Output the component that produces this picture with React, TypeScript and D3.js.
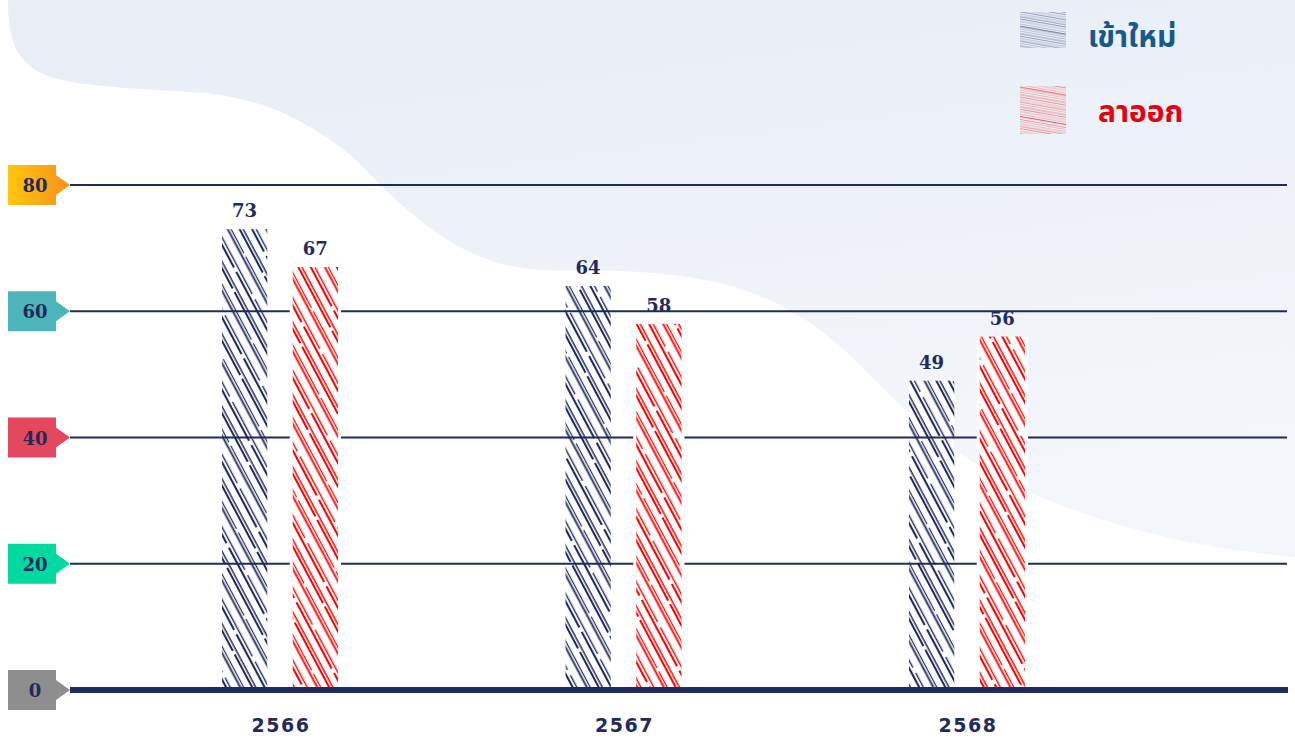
import React from "react";
import * as d3 from "d3";

const years = ["2566", "2567", "2568"];
const newHires = [73, 64, 49];
const resigned = [67, 58, 56];
const yTicks = [0, 20, 40, 60, 80];
const seriesNames = ["เข้าใหม่", "ลาออก"];

const W = 1295;
const H = 742;
const NAVY = "#1F2B5C";
const RED = "#FF0000";

const tagFill: Record<number, string> = {
  0: "#8E8E8E",
  20: "#00D9A0",
  40: "#E3485F",
  60: "#4BB5BA",
  80: "url(#tagOrange)",
};

// hand-drawn-like stroke set for bar texture (pattern space, vertical lines)
const strokes = [
  { x: 2, w: 2, dash: "44 4 32" },
  { x: 5.2, w: 1.5, dash: "80" },
  { x: 13, w: 2.1, dash: "26 5 49" },
  { x: 16.6, w: 1.4, dash: "58 6 16" },
  { x: 25.5, w: 1.9, dash: "80" },
  { x: 28.5, w: 1.2, dash: "18 4 58" },
];

const legendLines = d3.range(0, 60, 2.4);

export default function App() {
  const y = d3.scaleLinear().domain([0, 80]).range([690, 185]);
  const x = d3.scalePoint<string>().domain(years).range([280, 967]);
  const sub = d3.scaleBand<string>().domain(["in", "out"]).range([-58, 58]).paddingInner(0.36);
  const bw = sub.bandwidth();

  const bgPath =
    "M8,0 C8,40 15,70 62,80 C100,88 160,90 207,93 C260,100 300,115 353,157 C400,205 440,245 498,263 " +
    "C540,275 580,268 640,272 C700,276 760,285 820,330 C860,360 890,400 933,433 C960,455 990,475 1040,497 " +
    "C1090,517 1140,532 1178,540 C1230,550 1270,555 1295,557 L1295,0 Z";

  return (
    <div style={{ position: "absolute", left: 0, top: 0 }}>
      <svg width={W} height={H} style={{ display: "block" }}>
        <defs>
          <linearGradient id="bgGrad" x1="0" y1="0" x2="0.3" y2="1">
            <stop offset="0" stopColor="#E8EDF6" />
            <stop offset="1" stopColor="#F3F6FA" />
          </linearGradient>
          <linearGradient id="tagOrange" x1="0" y1="0" x2="1" y2="0">
            <stop offset="0" stopColor="#FFC70D" />
            <stop offset="1" stopColor="#F7901E" />
          </linearGradient>
          {[
            { id: "hatchNavy", c: NAVY },
            { id: "hatchRed", c: RED },
          ].map((p) => (
            <pattern
              key={p.id}
              id={p.id}
              patternUnits="userSpaceOnUse"
              width={34}
              height={80}
              patternTransform="rotate(-28)"
            >
              {strokes.map((s, i) => (
                <line
                  key={i}
                  x1={s.x}
                  x2={s.x}
                  y1={0}
                  y2={80}
                  stroke={p.c}
                  strokeWidth={s.w}
                  strokeDasharray={s.dash}
                />
              ))}
            </pattern>
          ))}
          {[
            { id: "legNavy", c: "#3A4A80" },
            { id: "legRed", c: "#F03030" },
          ].map((p) => (
            <pattern
              key={p.id}
              id={p.id}
              patternUnits="userSpaceOnUse"
              width={60}
              height={60}
              patternTransform="rotate(10)"
            >
              {legendLines.map((v, i) => (
                <line
                  key={i}
                  x1={0}
                  x2={60}
                  y1={v}
                  y2={v}
                  stroke={p.c}
                  strokeWidth={i % 3 === 0 ? 1 : 0.6}
                  opacity={i % 4 === 0 ? 0.9 : 0.55}
                />
              ))}
            </pattern>
          ))}
        </defs>

        {/* background */}
        <rect x={0} y={0} width={W} height={H} fill="#FFFFFF" />
        <path d={bgPath} fill="url(#bgGrad)" />

        {/* navy bars (under gridlines) */}
        {years.map((yr, i) => {
          const bx = (x(yr) as number) + (sub("in") as number);
          return (
            <g key={"n" + yr}>
              <rect x={bx} y={y(newHires[i])} width={bw} height={y(0) - y(newHires[i])} fill="#FFFFFF" />
              <rect x={bx} y={y(newHires[i])} width={bw} height={y(0) - y(newHires[i])} fill="url(#hatchNavy)" />
            </g>
          );
        })}

        {/* gridlines */}
        {yTicks
          .filter((t) => t !== 0)
          .map((t) => (
            <line key={t} x1={70} x2={1287} y1={y(t)} y2={y(t)} stroke={NAVY} strokeWidth={2} />
          ))}

        {/* red bars (mask gridlines) */}
        {years.map((yr, i) => {
          const bx = (x(yr) as number) + (sub("out") as number);
          const top = y(resigned[i]);
          return (
            <g key={"r" + yr}>
              <rect x={bx - 3} y={top} width={bw + 6} height={y(0) - top} fill="#FFFFFF" />
              <rect x={bx} y={top} width={bw} height={y(0) - top} fill="url(#hatchRed)" />
            </g>
          );
        })}

        {/* baseline */}
        <line x1={70} x2={1288} y1={y(0)} y2={y(0)} stroke={NAVY} strokeWidth={6} />

        {/* tick tags */}
        {yTicks.map((t) => {
          const cy = y(t);
          const x0 = 8;
          const x1 = 56;
          const pts = [
            [x0, cy - 20],
            [x1, cy - 20],
            [x1, cy - 10],
            [x1 + 14, cy],
            [x1, cy + 10],
            [x1, cy + 20],
            [x0, cy + 20],
          ]
            .map((p) => p.join(","))
            .join(" ");
          return (
            <g key={"tag" + t}>
              <polygon points={pts} fill={tagFill[t]} />
              <text
                x={(x0 + x1) / 2 + 3}
                y={cy + 7}
                textAnchor="middle"
                fontFamily="'DejaVu Serif', serif"
                fontWeight="bold"
                fontSize={18}
                fill={NAVY}
              >
                {t}
              </text>
            </g>
          );
        })}

        {/* value labels */}
        {years.map((yr, i) => (
          <g key={"v" + yr} fontFamily="'DejaVu Serif', serif" fontWeight="bold" fontSize={18} fill={NAVY} textAnchor="middle">
            <text x={(x(yr) as number) + (sub("in") as number) + bw / 2} y={y(newHires[i]) - 12}>
              {newHires[i]}
            </text>
            <text x={(x(yr) as number) + (sub("out") as number) + bw / 2} y={y(resigned[i]) - 12}>
              {resigned[i]}
            </text>
          </g>
        ))}

        {/* x labels */}
        {years.map((yr) => (
          <text
            key={"x" + yr}
            x={(x(yr) as number) + 1}
            y={732}
            textAnchor="middle"
            fontFamily="'DejaVu Sans', sans-serif"
            fontWeight="bold"
            fontSize={19}
            letterSpacing={1.5}
            fill={NAVY}
          >
            {yr}
          </text>
        ))}

        {/* legend */}
        <rect x={1020} y={12} width={46} height={36} fill="url(#legNavy)" />
        <text x={1088} y={47} fontFamily="'Noto Sans Thai', 'Noto Sans', sans-serif" fontWeight="bold" fontSize={30} fill="#155A8C">
          {seriesNames[0]}
        </text>
        <rect x={1020} y={86} width={46} height={48} fill="url(#legRed)" />
        <text x={1098} y={122} fontFamily="'Noto Sans Thai', 'Noto Sans', sans-serif" fontWeight="bold" fontSize={30} fill="#E60012">
          {seriesNames[1]}
        </text>
      </svg>
    </div>
  );
}
